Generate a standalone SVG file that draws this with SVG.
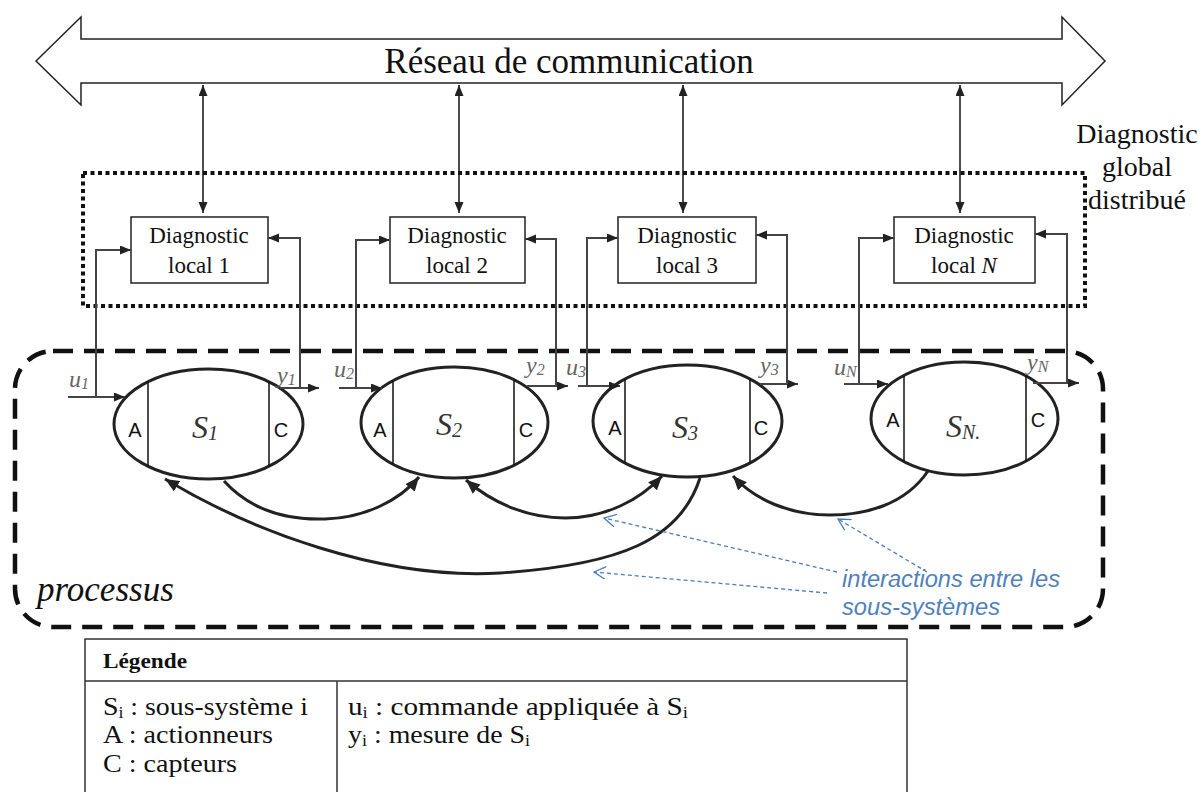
<svg xmlns="http://www.w3.org/2000/svg" width="1202" height="792" viewBox="0 0 1202 792">
<style>
.serif{font-family:"Liberation Serif","Times New Roman",serif;}
.sans{font-family:"Liberation Sans",Arial,sans-serif;}
.box{fill:#fff;stroke:#222;stroke-width:1.5;}
.ell{fill:#fff;stroke:#222;stroke-width:3;}
.div{stroke:#111;stroke-width:1.5;}
.io-a{fill:none;stroke:#444;stroke-width:2;marker-end:url(#ah);}
.net{fill:none;stroke:#111;stroke-width:1.5;marker-start:url(#ah);marker-end:url(#ah);}
.inter{fill:none;stroke:#222;stroke-width:3;}
.blue{fill:none;stroke:#4a7ebb;stroke-width:1.3;stroke-dasharray:4 3;marker-end:url(#av);}
.lbl{font-family:"Liberation Serif","Times New Roman",serif;font-style:italic;font-size:24px;fill:#666;}
.dt{font-family:"Liberation Serif","Times New Roman",serif;font-size:23px;fill:#111;text-anchor:middle;}
.ac{font-family:"Liberation Sans",Arial,sans-serif;font-size:20px;fill:#111;text-anchor:middle;}
.sl{font-family:"Liberation Serif","Times New Roman",serif;font-style:italic;font-size:32px;fill:#333;}
.leg{font-family:"Liberation Serif","Times New Roman",serif;font-size:25px;fill:#111;}
</style>
<defs>
<marker id="ah" markerUnits="userSpaceOnUse" markerWidth="12" markerHeight="10" refX="11" refY="4.5" orient="auto-start-reverse">
<path d="M0,0 L11,4.5 L0,9 z" fill="#222"/>
</marker>
<marker id="ahb" markerUnits="userSpaceOnUse" markerWidth="16" markerHeight="13" refX="14" refY="6" orient="auto-start-reverse">
<path d="M0,0 L14,6 L0,12 z" fill="#222"/>
</marker>
<marker id="av" markerUnits="userSpaceOnUse" markerWidth="14" markerHeight="14" refX="12" refY="6.5" orient="auto">
<path d="M0,0 L12,6.5 L0,13" fill="none" stroke="#4a7ebb" stroke-width="1.3"/>
</marker>
</defs>

<rect width="1202" height="792" fill="#fff"/>

<g id="reseau">
<polygon points="36,61 81,17 81,39 1062,39 1062,17 1105,61 1062,105 1062,83 81,83 81,105" fill="#fff" stroke="#222" stroke-width="1.5"/>
<text x="569" y="73" class="serif" font-size="35" text-anchor="middle" fill="#111">Réseau de communication</text>
</g>

<g id="diag-global">
<rect x="83" y="173" width="1002" height="133" fill="none" stroke="#111" stroke-width="4" stroke-dasharray="4 3.5"/>
<text class="serif" font-size="28" text-anchor="middle" fill="#111"><tspan x="1137" y="143">Diagnostic</tspan><tspan x="1137" y="176">global</tspan><tspan x="1137" y="209">distribué</tspan></text>
</g>

<g id="processus">
<rect x="15" y="351" width="1088" height="276" rx="38" ry="38" fill="none" stroke="#111" stroke-width="4.5" stroke-dasharray="20 11"/>
<text x="37" y="601" class="serif" font-style="italic" font-size="35" fill="#111">processus</text>
</g>

<g id="diag1">
<rect class="box" x="131" y="217" width="137" height="66"/>
<text class="dt"><tspan x="199" y="243">Diagnostic</tspan><tspan x="199" y="273">local 1</tspan></text>
</g>
<g id="diag2">
<rect class="box" x="390" y="217" width="135" height="66"/>
<text class="dt"><tspan x="457" y="243">Diagnostic</tspan><tspan x="457" y="273">local 2</tspan></text>
</g>
<g id="diag3">
<rect class="box" x="618" y="217" width="138" height="66"/>
<text class="dt"><tspan x="687" y="243">Diagnostic</tspan><tspan x="687" y="273">local 3</tspan></text>
</g>
<g id="diagN">
<rect class="box" x="894" y="217" width="141" height="66"/>
<text class="dt"><tspan x="964" y="243">Diagnostic</tspan><tspan x="964" y="273">local <tspan font-style="italic">N</tspan></tspan></text>
</g>

<g id="s1">
<ellipse class="ell" cx="208.5" cy="424" rx="94.5" ry="55"/>
<line class="div" x1="148" y1="382" x2="148" y2="466"/>
<line class="div" x1="269" y1="382" x2="269" y2="466"/>
<text class="ac" x="135" y="437">A</text>
<text class="ac" x="281" y="437">C</text>
<text class="sl" x="192" y="438">S<tspan font-size="20" dy="2">1</tspan></text>
</g>
<g id="s2">
<ellipse class="ell" cx="454.5" cy="422.5" rx="93.5" ry="55.5"/>
<line class="div" x1="393" y1="381" x2="393" y2="464"/>
<line class="div" x1="514" y1="380" x2="514" y2="465"/>
<text class="ac" x="380" y="437">A</text>
<text class="ac" x="526" y="437">C</text>
<text class="sl" x="436" y="435">S<tspan font-size="20" dy="2">2</tspan></text>
</g>
<g id="s3">
<ellipse class="ell" cx="687.5" cy="421" rx="94.5" ry="56"/>
<line class="div" x1="625" y1="379" x2="625" y2="463"/>
<line class="div" x1="750" y1="379" x2="750" y2="463"/>
<text class="ac" x="615" y="435">A</text>
<text class="ac" x="761" y="435">C</text>
<text class="sl" x="672" y="438">S<tspan font-size="20" dy="2">3</tspan></text>
</g>
<g id="sN">
<ellipse class="ell" cx="964.5" cy="418.5" rx="93.5" ry="56.5"/>
<line class="div" x1="904" y1="376" x2="904" y2="461"/>
<line class="div" x1="1026" y1="376" x2="1026" y2="461"/>
<text class="ac" x="893" y="427">A</text>
<text class="ac" x="1038" y="427">C</text>
<text class="sl" x="946" y="437">S<tspan font-size="20" dy="2">N.</tspan></text>
</g>

<g id="io-labels" class="lbl">
<text x="69" y="387">u<tspan font-size="16" dy="2">1</tspan></text>
<text x="277" y="383">y<tspan font-size="16" dy="2">1</tspan></text>
<text x="334" y="377">u<tspan font-size="16" dy="2">2</tspan></text>
<text x="526" y="373">y<tspan font-size="16" dy="2">2</tspan></text>
<text x="566" y="375">u<tspan font-size="16" dy="2">3</tspan></text>
<text x="760" y="373">y<tspan font-size="16" dy="2">3</tspan></text>
<text x="834" y="375">u<tspan font-size="16" dy="2">N</tspan></text>
<text x="1027" y="370">y<tspan font-size="16" dy="2">N</tspan></text>
</g>

<g id="interaction-note">
<text class="sans" font-style="italic" font-size="23" fill="#4f81bd"><tspan x="842" y="587" textLength="218" lengthAdjust="spacingAndGlyphs">interactions entre les</tspan><tspan x="842" y="615" textLength="158" lengthAdjust="spacingAndGlyphs">sous-systèmes</tspan></text>
</g>

<g id="legende">
<rect x="85" y="639" width="822" height="200" fill="none" stroke="#333" stroke-width="1.5"/>
<line x1="85" y1="681" x2="907" y2="681" stroke="#333" stroke-width="1.5"/>
<line x1="337" y1="681" x2="337" y2="792" stroke="#333" stroke-width="1.5"/>
<text x="103" y="668" class="serif" font-weight="bold" font-size="20" fill="#111" textLength="84" lengthAdjust="spacingAndGlyphs">Légende</text>
<text class="leg" x="103" y="715" textLength="205" lengthAdjust="spacingAndGlyphs">S<tspan font-size="16" dy="3">i</tspan><tspan dy="-3"> : sous-système i</tspan></text>
<text class="leg" x="103" y="743" textLength="170" lengthAdjust="spacingAndGlyphs">A : actionneurs</text>
<text class="leg" x="103" y="772" textLength="134" lengthAdjust="spacingAndGlyphs">C : capteurs</text>
<text class="leg" x="348" y="715" textLength="340" lengthAdjust="spacingAndGlyphs">u<tspan font-size="16" dy="3">i</tspan><tspan dy="-3"> : commande appliquée à S</tspan><tspan font-size="16" dy="3">i</tspan></text>
<text class="leg" x="348" y="743" textLength="182" lengthAdjust="spacingAndGlyphs">y<tspan font-size="16" dy="3">i</tspan><tspan dy="-3"> : mesure de S</tspan><tspan font-size="16" dy="3">i</tspan></text>
</g>

<g id="connectors">
<line class="net" x1="203" y1="85" x2="203" y2="213"/>
<line class="net" x1="459" y1="85" x2="459" y2="213"/>
<line class="net" x1="683" y1="85" x2="683" y2="213"/>
<line class="net" x1="960" y1="85" x2="960" y2="213"/>

<path class="io-a" d="M68,397 H125"/>
<path class="io-a" d="M96,397 V250 H131"/>
<path class="io-a" d="M280,388 H319"/>
<path class="io-a" d="M300,388 V238 H268"/>
<path class="io-a" d="M339,388 H382"/>
<path class="io-a" d="M356,388 V240 H390"/>
<path class="io-a" d="M527,386 H568"/>
<path class="io-a" d="M556,386 V239 H525"/>
<path class="io-a" d="M578,386 H620"/>
<path class="io-a" d="M587,386 V238 H618"/>
<path class="io-a" d="M760,384 H798"/>
<path class="io-a" d="M787,384 V235 H756"/>
<path class="io-a" d="M844,384 H888"/>
<path class="io-a" d="M859,384 V238 H894"/>
<path class="io-a" d="M1033,383 H1079"/>
<path class="io-a" d="M1067,383 V234 H1035"/>

<path class="inter" marker-end="url(#ahb)" d="M224,481 C255,515 295,520 325,519 C365,518 400,500 419,477"/>
<path class="inter" marker-start="url(#ahb)" marker-end="url(#ahb)" d="M466,480 C495,505 530,518 565,518 C605,518 640,500 662,476"/>
<path class="inter" marker-end="url(#ahb)" d="M700,478 C680,540 620,565 500,573 C380,580 250,530 165,479"/>
<path class="inter" marker-end="url(#ahb)" d="M928,471 C905,505 865,515 830,515 C790,515 755,500 733,476"/>

<line class="blue" x1="837" y1="572" x2="604" y2="518"/>
<line class="blue" x1="827" y1="593" x2="594" y2="572"/>
<line class="blue" x1="927" y1="572" x2="838" y2="519"/>
</g>
</svg>
